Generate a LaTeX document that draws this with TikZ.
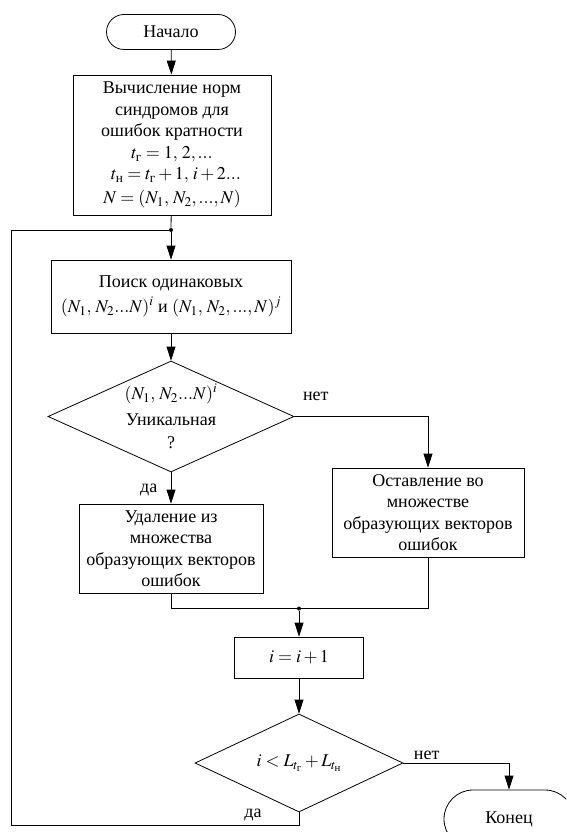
\documentclass[tikz,border=0pt]{standalone}
\usepackage{amsmath}
\usepackage{mathptmx}
\usepackage{fontspec}
\setmainfont{Liberation Serif}
\usetikzlibrary{arrows.meta,shapes.geometric,shapes.misc}
\begin{document}
\begin{tikzpicture}[x=1pt, y=1pt, line width=0.8pt,
  font=\fontsize{18}{21.5}\selectfont,
  box/.style={draw, rectangle, align=center, inner sep=0pt},
  term/.style={draw, rounded rectangle, inner sep=0pt},
  cond/.style={draw, diamond, align=center, inner sep=0pt},
  dot/.style={circle, fill, inner sep=0pt, minimum size=4pt},
  arr/.style={-{Triangle[length=14pt, width=9pt]}}]
\clip (0,0) rectangle (566,-832);
\node[term, minimum width=129pt, minimum height=35pt] (T_0) at (171,-32) {Начало};
\node[box, minimum width=198pt, minimum height=140pt] (B_1) at (172,-145) {Вычисление норм\\ синдромов для\\ ошибок кратности\\ $t_{\text{г}}=1,\,2,...$\\ $\;\;t_{\text{н}}=t_{\text{г}}+1,\,i+2...$\\[2pt] $N=(N_1,\,N_2,...,N)$};
\draw[arr] (T_0) -- (B_1);
\node[dot] (J_1) at (171,-230) {};
\draw (B_1) -- (J_1);
\node[box, minimum width=240pt, minimum height=73pt] (B_2) at (171,-296.5) {Поиск одинаковых\\[3pt] $(N_1,\,N_2...N)^i$ и $(N_1,\,N_2,...,N)^j$};
\draw[arr] (J_1) -- (B_2);
\node[cond, aspect=2.2, minimum width=246pt, minimum height=111pt] (D_1) at (171,-416.5) {$(N_1,\,N_2...N)^i$\\[5pt] Уникальная\\[1pt] ?};
\draw[arr] (B_2) -- (D_1);
\node[box, minimum width=192pt, minimum height=89pt] (B_3) at (428,-512.5) {Оставление во\\ множестве\\ образующих векторов\\ ошибок};
\draw[arr] (D_1.east) -| (B_3.north) node[pos=0.08, above=12pt] {нет};
\node[box, minimum width=184pt, minimum height=89pt] (B_4) at (171,-548.5) {Удаление из\\ множества\\ образующих векторов\\ ошибок};
\draw[arr] (D_1.south) -- (B_4.north) node[pos=0.55, left=10pt] {да};
\node[dot] (J_2) at (299,-608.5) {};
\draw (B_4.south) |- (J_2);
\draw (B_3.south) |- (J_2);
\node[box, minimum width=129pt, minimum height=41pt] (B_5) at (299,-657.5) {$i=i+1$};
\draw[arr] (J_2) -- (B_5);
\node[cond, aspect=2.1, minimum width=208pt, minimum height=98pt] (D_2) at (299,-763) {$i<L_{t_{\text{г}}}+L_{t_{\text{н}}}$};
\draw[arr] (B_5) -- (D_2);
\node[term, minimum width=130pt, minimum height=58pt] (T_1) at (509,-819) {Конец};
\draw[arr] (D_2.east) -| (T_1.north) node[pos=0.11, above] {нет};
\coordinate (C_0) at (11,-825);
\draw (D_2.south) |- (C_0) node[pos=0.58, above] {да} |- (J_1);
\end{tikzpicture}
\end{document}
